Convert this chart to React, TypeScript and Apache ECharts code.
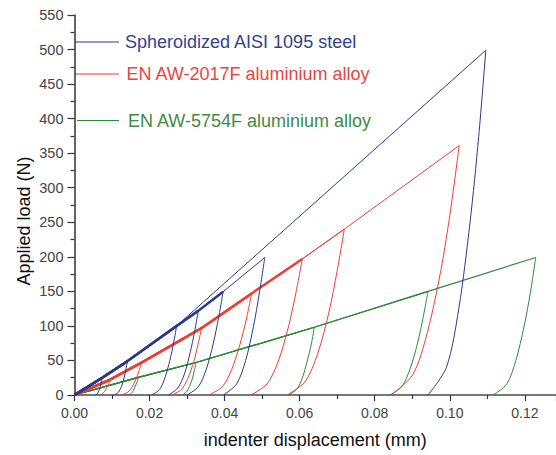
import React, { useEffect, useRef } from "react";
import * as echarts from "echarts";

// Tick labels
const xTicks = [0, 0.02, 0.04, 0.06, 0.08, 0.1, 0.12];
const yTicks = [0, 50, 100, 150, 200, 250, 300, 350, 400, 450, 500, 550];

const legendNames = [
  "Spheroidized AISI 1095 steel",
  "EN AW-2017F aluminium alloy",
  "EN AW-5754F aluminium alloy",
];

// Loading curves (displacement mm, load N) — master loading path through the peaks
const steelLoad = [[0, 0], [0.0074, 25], [0.0141, 49], [0.0272, 100], [0.033, 122], [0.0396, 149.5], [0.0507, 199]];
const steelMaxLoad = [[0, 0], [0.0074, 25], [0.0141, 49], [0.0272, 100], [0.1096, 499]];
const redLoad = [[0, 0], [0.0094, 22], [0.0179, 47], [0.0339, 97], [0.0472, 147], [0.0607, 197], [0.0719, 240], [0.1025, 361]];
const greenLoad = [[0, 0], [0.017, 25.6], [0.0324, 47], [0.0639, 98], [0.0942, 150], [0.1229, 199]];

// Unloading curves (peak -> residual displacement)
const steelUnload = [
  [[0.0074, 25], [0.0072, 19], [0.0069, 12.5], [0.0065, 6.3], [0.0061, 2], [0.0055, 0]],
  [[0.0141, 49], [0.0137, 37], [0.0132, 24.5], [0.0125, 12], [0.0117, 4], [0.0106, 0]],
  [[0.0272, 100], [0.0264, 75], [0.0254, 50], [0.0241, 25], [0.0227, 8], [0.0206, 0]],
  [[0.033, 122], [0.032, 91.5], [0.0308, 61], [0.0293, 30.5], [0.0275, 10], [0.025, 0]],
  [[0.0396, 149.5], [0.0384, 112], [0.037, 75], [0.0351, 37], [0.033, 12], [0.03, 0]],
  [[0.0507, 199], [0.0493, 149], [0.0477, 99.5], [0.0456, 50], [0.0432, 16], [0.0397, 0]],
  [[0.1096, 499], [0.1077, 374], [0.1054, 250], [0.1024, 125], [0.0991, 40], [0.0942, 0]],
];
const redUnload = [
  [[0.0094, 22], [0.0091, 16.5], [0.0086, 11], [0.0081, 5.5], [0.0075, 2], [0.0066, 0]],
  [[0.0179, 47], [0.0172, 35], [0.0164, 23.5], [0.0154, 12], [0.0142, 4], [0.0125, 0]],
  [[0.0339, 97], [0.0329, 73], [0.0318, 48.5], [0.0302, 24], [0.0285, 8], [0.026, 0]],
  [[0.0472, 147], [0.0458, 110], [0.0441, 73.5], [0.0419, 37], [0.0394, 12], [0.0358, 0]],
  [[0.0607, 197], [0.059, 148], [0.057, 98.5], [0.0543, 49], [0.0513, 16], [0.047, 0]],
  [[0.0719, 240], [0.07, 180], [0.0678, 120], [0.0648, 60], [0.0614, 19], [0.0566, 0]],
  [[0.1025, 361], [0.1003, 271], [0.0976, 180], [0.094, 90], [0.0901, 29], [0.0843, 0]],
];
const greenUnload = [
  [[0.017, 25.6], [0.0167, 19], [0.0162, 13], [0.0157, 6.5], [0.0151, 2], [0.0142, 0]],
  [[0.0324, 47], [0.0319, 35], [0.0314, 23.5], [0.0306, 12], [0.0298, 4], [0.0286, 0]],
  [[0.0639, 98], [0.0631, 73.5], [0.062, 49], [0.0607, 24.5], [0.0592, 8], [0.057, 0]],
  [[0.0942, 150], [0.0929, 112.5], [0.0914, 75], [0.0894, 37.5], [0.0872, 12], [0.084, 0]],
  [[0.1229, 199], [0.1215, 149], [0.1198, 99.5], [0.1176, 50], [0.1152, 16], [0.1116, 0]],
];

const BLUE = "#2b3a8c";
const RED = "#ee3d35";
const GREEN = "#2f8a3a";
const FONT = "'Liberation Sans', Arial, sans-serif";

function lineSeries(data: number[][], color: string, width: number, smooth: boolean | number) {
  return {
    type: "line",
    data,
    symbol: "none",
    silent: true,
    smooth,
    lineStyle: { color, width },
    z: 2,
  };
}

export default function App() {
  const ref = useRef<HTMLDivElement>(null);
  useEffect(() => {
    if (!ref.current) return;
    const chart = echarts.init(ref.current, undefined, { renderer: "svg" });
    const series: any[] = [];
    greenUnload.forEach((u, i) => {
      series.push(lineSeries(greenLoad.slice(0, i + 2), GREEN, 1.2, false));
      series.push(lineSeries(u, GREEN, 1, 0.3));
    });
    redUnload.forEach((u, i) => {
      series.push(lineSeries(redLoad.slice(0, i + 2), RED, i < 5 ? 2.4 : 1, false));
      series.push(lineSeries(u, RED, 1, 0.3));
    });
    steelUnload.forEach((u, i) => {
      const load = i === 6 ? steelMaxLoad : steelLoad.slice(0, i + 2);
      series.push(lineSeries(load, BLUE, i < 5 ? 2.4 : 1, false));
      series.push(lineSeries(u, BLUE, 1, 0.3));
    });

    const legendY = [42, 74, 120.5];
    const legendColors = [BLUE, RED, GREEN];
    const legendTextColors = ["#34428f", "#e8463f", "#3f8a45"];
    const graphic: any[] = [];
    legendNames.forEach((name, i) => {
      graphic.push({
        type: "line",
        shape: { x1: i === 2 ? 77 : 75, y1: legendY[i], x2: 119, y2: legendY[i] },
        style: { stroke: legendColors[i], lineWidth: 1 },
        silent: true,
      });
      graphic.push({
        type: "text",
        x: 125 + i * 1.5,
        y: legendY[i],
        style: {
          text: name,
          fill: legendTextColors[i],
          font: `18px ${FONT}`,
          verticalAlign: "middle",
          align: "left",
        },
        silent: true,
      });
    });
    graphic.push({
      type: "text",
      x: 24,
      y: 221,
      rotation: Math.PI / 2,
      style: {
        text: "Applied load (N)",
        fill: "#111",
        font: `18px ${FONT}`,
        align: "center",
        verticalAlign: "middle",
      },
      silent: true,
    });

    chart.setOption({
      animation: false,
      backgroundColor: "#ffffff",
      grid: { left: 74.5, top: 15, right: 0, bottom: 60, containLabel: false },
      xAxis: [
        {
          type: "value",
          min: 0,
          max: 0.1283,
          interval: 0.02,
          name: "indenter displacement (mm)",
          nameLocation: "middle",
          nameGap: 36,
          nameTextStyle: { fontSize: 18, color: "#111", fontFamily: FONT },
          axisLine: { show: true, onZero: false, lineStyle: { color: "#333", width: 1.5 } },
          axisTick: { show: true, inside: false, length: 6, lineStyle: { color: "#333", width: 1.2 } },
          minorTick: { show: true, splitNumber: 2, length: 4, lineStyle: { color: "#333", width: 1.2 } },
          splitLine: { show: false },
          axisLabel: {
            margin: 11,
            fontSize: 14,
            color: "#444",
            fontFamily: FONT,
            customValues: xTicks,
            formatter: (v: number) => v.toFixed(2),
          },
        },
        {
          type: "value",
          position: "top",
          min: 0,
          max: 0.1283,
          axisLine: { show: true, lineStyle: { color: "#777", width: 2 } },
          axisTick: { show: false },
          axisLabel: { show: false },
          splitLine: { show: false },
        },
      ],
      yAxis: {
        type: "value",
        min: 0,
        max: 550,
        interval: 50,
        axisLine: { show: true, onZero: false, lineStyle: { color: "#333", width: 1.5 } },
        axisTick: { show: true, inside: false, length: 7, lineStyle: { color: "#333", width: 1.2 } },
        minorTick: { show: true, splitNumber: 2, length: 4, lineStyle: { color: "#333", width: 1.2 } },
        splitLine: { show: false },
        axisLabel: {
          margin: 11,
          fontSize: 14.5,
          color: "#444",
          fontFamily: FONT,
          customValues: yTicks,
          formatter: (v: number) => String(Math.round(v)),
        },
      },
      graphic,
      series,
    });
    return () => chart.dispose();
  }, []);
  return (
    <div
      ref={ref}
      style={{ position: "fixed", left: 0, top: 0, width: 556, height: 455, background: "#fff" }}
    />
  );
}
